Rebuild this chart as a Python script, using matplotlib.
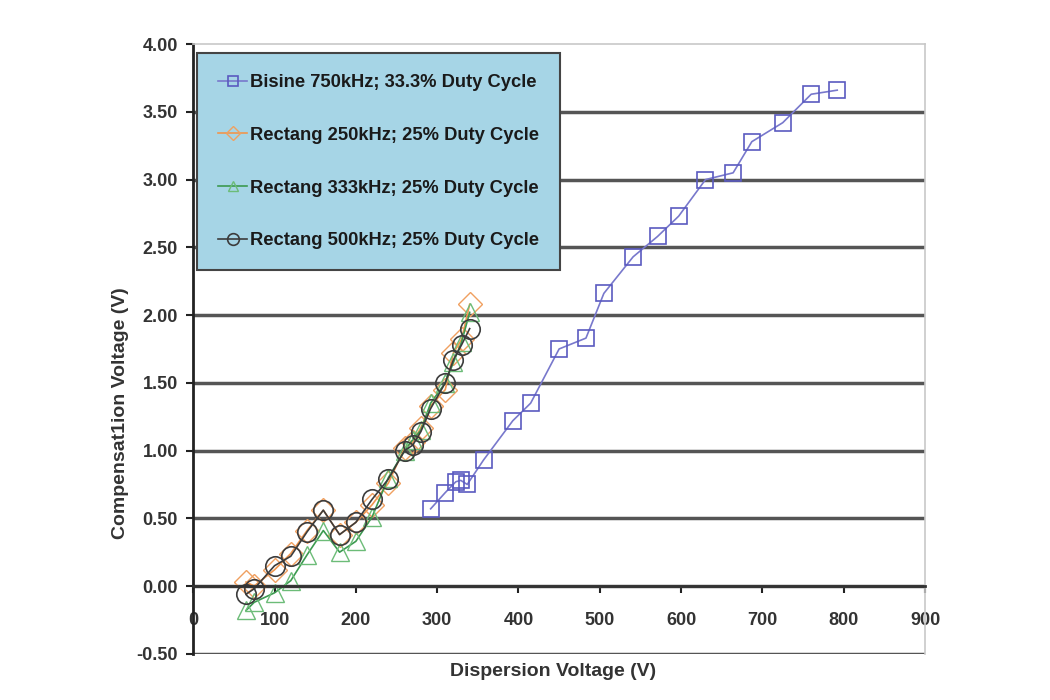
import matplotlib.pyplot as plt
from matplotlib.ticker import FormatStrFormatter

plt.rcParams['font.family'] = ['Liberation Sans', 'DejaVu Sans']

# Bisine 750kHz; 33.3% duty cycle
bisine_x = [292, 310, 323, 329, 337, 357, 393, 415, 450, 483, 505, 541, 571, 597, 630, 664, 687, 725, 760, 792]
bisine_y = [0.57, 0.69, 0.77, 0.78, 0.75, 0.93, 1.22, 1.35, 1.75, 1.83, 2.16, 2.43, 2.58, 2.73, 3.00, 3.05, 3.28, 3.42, 3.63, 3.66]

# Rectangular waveforms, 25% duty cycle
rect_x = [65, 75, 100, 120, 140, 160, 180, 200, 220, 240, 260, 270, 280, 292, 310, 320, 330, 340]
rect250_y = [0.03, 0.00, 0.12, 0.24, 0.41, 0.56, 0.38, 0.47, 0.60, 0.76, 1.02, 1.06, 1.17, 1.33, 1.45, 1.72, 1.82, 2.08]
rect333_y = [-0.18, -0.12, -0.05, 0.04, 0.23, 0.41, 0.25, 0.33, 0.51, 0.80, 1.00, 1.08, 1.15, 1.35, 1.50, 1.65, 1.80, 2.02]
rect500_y = [-0.06, -0.02, 0.15, 0.22, 0.40, 0.56, 0.38, 0.47, 0.64, 0.79, 1.00, 1.04, 1.14, 1.31, 1.50, 1.67, 1.78, 1.90]

labels = ['Bisine 750kHz; 33.3% Duty Cycle',
          'Rectang 250kHz; 25% Duty Cycle',
          'Rectang 333kHz; 25% Duty Cycle',
          'Rectang 500kHz; 25% Duty Cycle']

fig = plt.figure(figsize=(10.5, 7), dpi=100)
ax = fig.add_axes([0.184, 0.066, 0.697, 0.871])

ax.plot(bisine_x, bisine_y, color='#7878cc', lw=1.2, marker='s', ms=12,
        mfc='none', mec='#5a5ac0', mew=1.2, label=labels[0])
ax.plot(rect_x, rect250_y, color='#f0964e', lw=1.2, marker='D', ms=12,
        mfc='none', mec='#f0a060', mew=1.0, label=labels[1])
ax.plot(rect_x, rect333_y, color='#3c9a50', lw=1.2, marker='^', ms=13,
        mfc='none', mec='#6cbc78', mew=1.0, label=labels[2])
ax.plot(rect_x, rect500_y, color='#3c3c3c', lw=1.2, marker='o', ms=14,
        mfc='none', mec='#3c3c3c', mew=1.2, label=labels[3])

ax.set_xlim(0, 900)
ax.set_ylim(-0.5, 4.0)
ax.set_xticks(range(0, 901, 100))
ax.set_yticks([-0.5 + 0.5 * i for i in range(10)])
ax.yaxis.set_major_formatter(FormatStrFormatter('%.2f'))

# gridlines
ax.yaxis.grid(True, color='#555555', lw=2.5)
ax.get_ygridlines()[-1].set_visible(False)
ax.set_axisbelow(True)

# x axis crosses at zero
ax.spines['bottom'].set_position(('data', 0))
ax.spines['bottom'].set_color('#333333')
ax.spines['bottom'].set_linewidth(2.0)
ax.spines['left'].set_color('#222222')
ax.spines['left'].set_linewidth(2.0)
for s in ['top', 'right']:
    ax.spines[s].set_color('#c8c8c8')
    ax.spines[s].set_linewidth(1.2)

ax.tick_params(axis='both', labelsize=13, length=5, width=1.5, colors='#222222')
ax.tick_params(axis='x', pad=14)
ax.tick_params(axis='y', pad=6)
for t in ax.get_xticklabels() + ax.get_yticklabels():
    t.set_fontweight('bold')
    t.set_color('#333333')

fig.text(0.527, 0.041, 'Dispersion Voltage (V)', ha='center', va='center',
         fontsize=14, fontweight='bold', color='#333333')
fig.text(0.115, 0.41, 'Compensat1ion Voltage (V)', ha='center', va='center',
         rotation=90, fontsize=14, fontweight='bold', color='#333333')

leg = ax.legend(loc='upper left', bbox_to_anchor=(197 / 1050, 1 - 53 / 700),
                bbox_transform=fig.transFigure, fontsize=13.2, frameon=True,
                fancybox=False, handlelength=1.6, handletextpad=0.15,
                labelspacing=1.95, borderpad=1.15, borderaxespad=0, markerscale=0.6)
leg.get_frame().set_facecolor('#a6d5e6')
leg.get_frame().set_edgecolor('#444444')
leg.get_frame().set_linewidth(1.5)
leg.get_frame().set_alpha(1)
for t in leg.get_texts():
    t.set_fontweight('bold')
    t.set_color('#1a1a1a')

fig.savefig('out.png', dpi=100)
